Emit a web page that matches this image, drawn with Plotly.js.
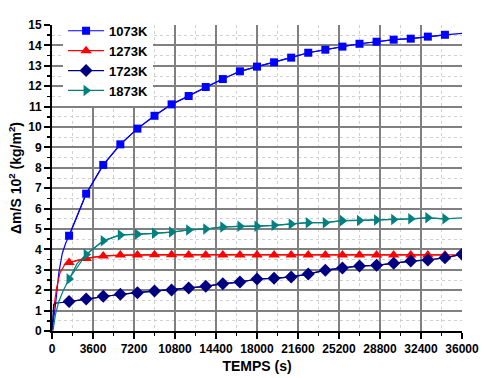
<!DOCTYPE html>
<html>
<head>
<meta charset="utf-8">
<script src="https://cdn.plot.ly/plotly-3.0.1.min.js"></script>
<style>html,body{margin:0;padding:0;background:#fff;}#chart{width:493px;height:378px;}</style>
</head>
<body>
<div id="chart"></div>
<script>
// Series names
const seriesNames = ["1073K", "1273K", "1723K", "1873K"];

// Marker times (s)
const markerTimes = [1500, 3000, 4500, 6000, 7500, 9000, 10500, 12000, 13500, 15000, 16500, 18000,
  19500, 21000, 22500, 24000, 25500, 27000, 28500, 30000, 31500, 33000, 34500];

// Early (line-only) portions: times and values
const earlyT1073 = [0, 300, 600, 900, 1200];
const earlyY1073 = [0, 1.25, 2.85, 3.8, 4.3];
const earlyT1273 = [0, 200, 400, 700, 1100];
const earlyY1273 = [0, 1.3, 2.1, 2.85, 3.24];
const earlyT1723 = [0, 150, 300, 700, 1100];
const earlyY1723 = [0, 1.3, 1.37, 1.38, 1.41];
const earlyT1873 = [0, 100, 300, 600, 1000];
const earlyY1873 = [0, 0.05, 0.8, 1.45, 2.0];

// Marker values
const m1073 = [4.67, 6.73, 8.14, 9.15, 9.92, 10.55, 11.11, 11.52, 11.96, 12.35, 12.73, 12.96,
  13.17, 13.40, 13.64, 13.79, 13.94, 14.08, 14.18, 14.28, 14.33, 14.43, 14.52];
const m1273 = [3.36, 3.56, 3.68, 3.72, 3.73, 3.74, 3.74, 3.73, 3.73, 3.73, 3.73, 3.73,
  3.73, 3.73, 3.73, 3.73, 3.73, 3.73, 3.73, 3.73, 3.73, 3.73, 3.73];
const m1723 = [1.44, 1.57, 1.70, 1.80, 1.88, 1.96, 2.01, 2.11, 2.19, 2.32, 2.40, 2.55,
  2.58, 2.65, 2.79, 2.98, 3.09, 3.19, 3.22, 3.32, 3.43, 3.48, 3.59];
const m1873 = [2.55, 3.75, 4.42, 4.71, 4.74, 4.79, 4.85, 4.95, 5.00, 5.10, 5.13, 5.13,
  5.18, 5.25, 5.31, 5.31, 5.41, 5.42, 5.44, 5.47, 5.50, 5.55, 5.50];

// End values at 36000 s
const endTime = 36000;
const end1073 = 14.59;
const end1273 = 3.73;
const end1723 = 3.76;
const end1873 = 5.55;

// Extra intermediate line point for 1873K between first markers
const midT1873 = [2200];
const midY1873 = [3.3];

// Tick labels
const xTickVals = [0, 3600, 7200, 10800, 14400, 18000, 21600, 25200, 28800, 32400, 36000];
const yTickVals = [0,1,2,3,4,5,6,7,8,9,10,11,12,13,14,15];

const colors = ["#0000FF", "#FF0000", "#000080", "#008080"];
const symbols = ["square", "triangle-up", "diamond", "triangle-right"];
const sizes = [8, 10, 10, 10];

function mergeLine(eT, eY, mT, mY, endY, extraT, extraY) {
  const pts = [];
  eT.forEach((t, i) => pts.push([t, eY[i]]));
  mT.forEach((t, i) => pts.push([t, mY[i]]));
  (extraT || []).forEach((t, i) => pts.push([t, extraY[i]]));
  pts.push([endTime, endY]);
  pts.sort((a, b) => a[0] - b[0]);
  return {x: pts.map(p => p[0]), y: pts.map(p => p[1])};
}

const lines = [
  mergeLine(earlyT1073, earlyY1073, markerTimes, m1073, end1073),
  mergeLine(earlyT1273, earlyY1273, markerTimes, m1273, end1273),
  mergeLine(earlyT1723, earlyY1723, markerTimes, m1723, end1723),
  mergeLine(earlyT1873, earlyY1873, markerTimes, m1873, end1873, midT1873, midY1873)
];
const markerSets = [
  {x: markerTimes, y: m1073},
  {x: markerTimes, y: m1273},
  {x: markerTimes.concat([endTime]), y: m1723.concat([end1723])},
  {x: markerTimes, y: m1873}
];

const traces = [];
lines.forEach((l, i) => {
  traces.push({x: l.x, y: l.y, mode: "lines", line: {color: colors[i], width: 1.2},
    showlegend: false, hoverinfo: "skip"});
});
markerSets.forEach((m, i) => {
  traces.push({x: m.x, y: m.y, mode: "lines+markers", name: seriesNames[i],
    line: {color: colors[i], width: 1.2},
    marker: {symbol: symbols[i], size: sizes[i], color: colors[i]}});
});

const fam = "Liberation Sans, Arial, sans-serif";
const tickFont = {family: fam, size: 12, color: "#000", weight: "bold"};

const layout = {
  width: 493, height: 378,
  margin: {l: 52, r: 31, t: 25, b: 47},
  paper_bgcolor: "#fff", plot_bgcolor: "#fff",
  showlegend: true,
  legend: {x: 0.027, y: 1.03, xanchor: "left", yanchor: "top", bgcolor: "#fff", borderwidth: 0,
    font: {family: fam, size: 13, color: "#000", weight: "bold"},
    itemwidth: 36, traceorder: "normal"},
  xaxis: {
    range: [0, 36000], tickvals: xTickVals, ticktext: xTickVals.map(String),
    showline: true, linecolor: "#000", linewidth: 2, mirror: false,
    ticks: "outside", ticklen: 6, tickwidth: 2, tickcolor: "#000",
    showgrid: true, gridcolor: "#808080", gridwidth: 2, zeroline: false,
    tickfont: tickFont,
    minor: {dtick: 1800, ticks: "outside", ticklen: 3, tickwidth: 1.5, tickcolor: "#000",
      showgrid: true, gridcolor: "#d0d0d0", griddash: "dot", gridwidth: 1},
    title: {text: "TEMPS (s)", font: {family: fam, size: 14, color: "#000", weight: "bold"}, standoff: 6}
  },
  yaxis: {
    range: [0, 15], tickvals: yTickVals, ticktext: yTickVals.map(String),
    showline: true, linecolor: "#000", linewidth: 2, mirror: false,
    ticks: "outside", ticklen: 6, tickwidth: 2, tickcolor: "#000",
    showgrid: true, gridcolor: "#808080", gridwidth: 2, zeroline: false,
    tickfont: tickFont,
    minor: {dtick: 0.5, ticks: "outside", ticklen: 3, tickwidth: 1.5, tickcolor: "#000",
      showgrid: true, gridcolor: "#d0d0d0", griddash: "dot", gridwidth: 1},
    title: {text: "Δm/S 10<sup>2</sup> (kg/m<sup>2</sup>)\u00a0\u00a0\u00a0\u00a0\u00a0", font: {family: fam, size: 14, color: "#000", weight: "bold"}, standoff: 3}
  }
};

Plotly.newPlot("chart", traces, layout, {displayModeBar: false, staticPlot: true});
</script>
</body>
</html>
